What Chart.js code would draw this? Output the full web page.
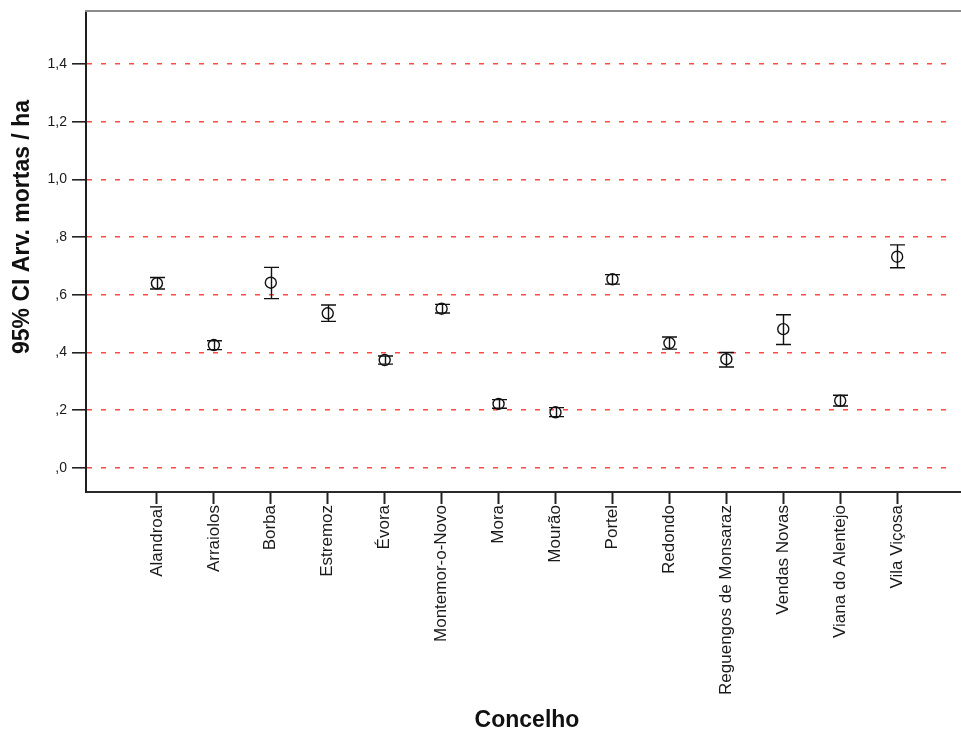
<!DOCTYPE html>
<html>
<head>
<meta charset="utf-8">
<title>Arv. mortas / ha por Concelho</title>
<script src="https://cdn.jsdelivr.net/npm/chart.js@4.4.1/dist/chart.umd.min.js"></script>
<style>
  html, body { margin: 0; padding: 0; background: #ffffff; }
  #wrap { width: 961px; height: 739px; }
</style>
</head>
<body>
<div id="wrap"><canvas id="chart" width="961" height="739"></canvas></div>
<script>
// Concelhos on the x axis
const categories = [
  'Alandroal', 'Arraiolos', 'Borba', 'Estremoz', 'Évora', 'Montemor-o-Novo',
  'Mora', 'Mourão', 'Portel', 'Redondo', 'Reguengos de Monsaraz',
  'Vendas Novas', 'Viana do Alentejo', 'Vila Viçosa'
];

// Mean dead trees per hectare and its 95% confidence interval
const meanValues = [0.640, 0.426, 0.642, 0.536, 0.374, 0.552, 0.222, 0.193, 0.654, 0.433, 0.377, 0.481, 0.233, 0.732];
const lowerCI    = [0.620, 0.410, 0.587, 0.508, 0.360, 0.537, 0.207, 0.178, 0.637, 0.412, 0.350, 0.428, 0.215, 0.694];
const upperCI    = [0.660, 0.441, 0.695, 0.565, 0.388, 0.567, 0.237, 0.209, 0.670, 0.454, 0.400, 0.531, 0.252, 0.773];

// Value axis ticks
const yTickValues = [0, 0.2, 0.4, 0.6, 0.8, 1.0, 1.2, 1.4];

const yAxisTitle = '95% CI Arv. mortas / ha';
const xAxisTitle = 'Concelho';

const FONT = '"Liberation Sans", Arial, sans-serif';

// "0.6" -> ",6", "1.4" -> "1,4"
function formatTick(v) {
  let s = (Math.round(v * 10) / 10).toFixed(1).replace('.', ',');
  if (s.startsWith('0,')) s = s.slice(1);
  return s;
}

// Vertical CI whiskers with caps, through the mean marker
const errorBars = {
  id: 'errorBars',
  afterDatasetsDraw(chart) {
    const { ctx, scales: { x, y } } = chart;
    const cap = 7.5;
    ctx.save();
    ctx.strokeStyle = '#111111';
    ctx.lineWidth = 1.4;
    categories.forEach((c, i) => {
      const px = Math.round(x.getPixelForValue(i)) + 0.5;
      const top = y.getPixelForValue(upperCI[i]);
      const bot = y.getPixelForValue(lowerCI[i]);
      ctx.beginPath();
      ctx.moveTo(px, top); ctx.lineTo(px, bot);
      ctx.moveTo(px - cap, top); ctx.lineTo(px + cap, top);
      ctx.moveTo(px - cap, bot); ctx.lineTo(px + cap, bot);
      ctx.stroke();
    });
    ctx.restore();
  }
};

// Frame lines that run on to the canvas edge, plus both axis titles
const frame = {
  id: 'frame',
  beforeDraw(chart) {
    const { ctx, width, height } = chart;
    ctx.save();
    ctx.fillStyle = '#ffffff';
    ctx.fillRect(0, 0, width, height);
    ctx.restore();
  },
  afterDraw(chart) {
    const { ctx, chartArea, width } = chart;
    ctx.save();
    ctx.strokeStyle = '#8c8c8c';
    ctx.lineWidth = 2;
    ctx.beginPath();
    ctx.moveTo(chartArea.left - 1, chartArea.top - 1);
    ctx.lineTo(width, chartArea.top - 1);
    ctx.stroke();

    ctx.strokeStyle = '#2a2a2a';
    ctx.beginPath();
    ctx.moveTo(chartArea.right - 1, chartArea.bottom);
    ctx.lineTo(width, chartArea.bottom);
    ctx.stroke();

    ctx.fillStyle = '#111111';
    ctx.font = 'bold 23px ' + FONT;
    ctx.textAlign = 'center';
    ctx.textBaseline = 'middle';
    ctx.fillText(xAxisTitle, 527, 721);

    ctx.translate(23, 227);
    ctx.rotate(-Math.PI / 2);
    ctx.fillText(yAxisTitle, 0, 0);
    ctx.restore();
  }
};

new Chart(document.getElementById('chart'), {
  type: 'scatter',
  data: {
    datasets: [{
      label: 'Arv. mortas / ha',
      data: meanValues.map((v, i) => ({ x: i, y: v })),
      pointStyle: 'circle',
      pointRadius: 5.5,
      pointHoverRadius: 5.5,
      pointBorderWidth: 1.4,
      pointBorderColor: '#111111',
      pointBackgroundColor: 'rgba(0,0,0,0)'
    }]
  },
  options: {
    responsive: false,
    animation: false,
    events: [],
    layout: { padding: { left: 0, right: 0, top: 12, bottom: 0 } },
    plugins: {
      legend: { display: false },
      tooltip: { enabled: false }
    },
    scales: {
      x: {
        type: 'linear',
        position: 'bottom',
        min: -1.2456,
        max: 14.0,
        afterBuildTicks(scale) {
          scale.ticks = categories.map((c, i) => ({ value: i }));
        },
        afterFit(scale) {
          scale.height = 247;
          scale.paddingLeft = 0;
          scale.paddingRight = 0;
        },
        ticks: {
          autoSkip: false,
          minRotation: 90,
          maxRotation: 90,
          padding: 1,
          color: '#1a1a1a',
          font: { family: FONT, size: 17 },
          callback: (v) => categories[v]
        },
        grid: {
          drawOnChartArea: false,
          drawTicks: true,
          tickLength: 12,
          tickColor: '#222222',
          tickWidth: 2
        },
        border: { display: true, color: '#2a2a2a', width: 2 },
        title: { display: false }
      },
      y: {
        type: 'linear',
        position: 'left',
        min: -0.0832,
        max: 1.58,
        afterBuildTicks(scale) {
          scale.ticks = yTickValues.map((v) => ({ value: v }));
        },
        afterFit(scale) {
          scale.width = 86;
          scale.paddingTop = 0;
          scale.paddingBottom = 0;
        },
        ticks: {
          padding: 5,
          color: '#1a1a1a',
          font: { family: FONT, size: 14 },
          callback: (v) => formatTick(v)
        },
        grid: {
          drawOnChartArea: true,
          drawTicks: true,
          color: 'rgba(255,40,40,0.85)',
          lineWidth: 1.6,
          tickLength: 14,
          tickColor: '#222222',
          tickWidth: 1.6,
          tickBorderDash: []
        },
        border: { display: true, color: '#1e1e1e', width: 2, dash: [5, 9] },
        title: { display: false }
      }
    }
  },
  plugins: [frame, errorBars]
});
</script>
</body>
</html>
